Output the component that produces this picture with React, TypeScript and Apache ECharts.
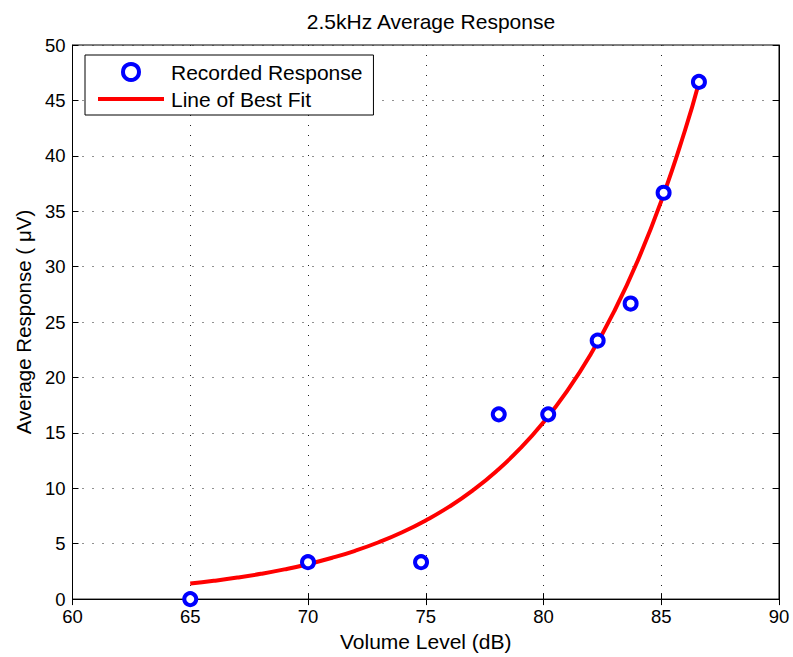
import React, { useEffect, useRef } from "react";
import * as echarts from "echarts";

const recordedX = [65, 70, 74.8, 78.1, 80.2, 82.3, 83.7, 85.1, 86.6];
const recordedY = [0, 3.33, 3.33, 16.67, 16.67, 23.33, 26.67, 36.67, 46.67];

const fitX = [65, 66, 67, 68, 69, 70, 71, 72, 73, 74, 75, 76, 77, 78, 79, 80, 81, 82, 83, 84, 85, 86, 86.6];
const fitY = [1.4, 1.65, 1.94, 2.28, 2.68, 3.15, 3.71, 4.36, 5.13, 6.03, 7.1, 8.34, 9.81, 11.54, 13.57, 15.96, 18.77, 22.07, 25.96, 30.53, 35.91, 42.24, 46.6];

const FONT = "Liberation Sans, Arial, Helvetica, sans-serif";
const LINE_ICON = "path://M0,0 L66,0 L66,0.05 Z M0,6 L66,6 L66,10 L0,10 Z M0,16 L66,16 L66,15.95 Z";

export default function App() {
  const ref = useRef<HTMLDivElement>(null);
  useEffect(() => {
    if (!ref.current) return;
    const chart = echarts.init(ref.current, undefined, { renderer: "svg" });
    const grid = { color: "#222", type: [1, 9] as any, width: 1 };
    const boxAxis = {
      axisLine: { show: true, lineStyle: { color: "#000" } },
      axisTick: { show: true, inside: true, length: 6, lineStyle: { color: "#000" } },
      axisLabel: { show: false },
      splitLine: { show: false },
    };
    chart.setOption({
      animation: false,
      backgroundColor: "#fff",
      textStyle: { fontFamily: FONT },
      title: {
        text: "2.5kHz Average Response",
        left: 426,
        textAlign: "center",
        top: 6,
        textStyle: { fontFamily: FONT, fontSize: 21, fontWeight: "normal", color: "#000" },
      },
      grid: { left: 72.5, right: 14, top: 45, bottom: 57, show: true, borderColor: "#000", borderWidth: 1 },
      legend: {
        orient: "vertical",
        left: 85,
        top: 55,
        padding: [6, 11, 5, 13],
        itemGap: 5,
        itemWidth: 66,
        itemHeight: 16,
        backgroundColor: "#fff",
        borderColor: "#000",
        borderWidth: 1,
        borderRadius: 0,
        textStyle: { fontFamily: FONT, fontSize: 21, lineHeight: 22, color: "#000", padding: [0, 0, 0, 2] },
        data: [
          { name: "Recorded Response", icon: "circle", itemStyle: { color: "#fff", borderColor: "#0000ff", borderWidth: 4 } },
          { name: "Line of Best Fit", icon: LINE_ICON, itemStyle: { color: "#ff0000", borderWidth: 0 } },
        ],
      },
      xAxis: [
        {
          type: "value",
          min: 60,
          max: 90,
          interval: 5,
          name: "Volume Level (dB)",
          nameLocation: "middle",
          nameGap: 24,
          nameTextStyle: { fontFamily: FONT, fontSize: 21, color: "#000", verticalAlign: "top" },
          axisLine: { show: true, lineStyle: { color: "#000" } },
          axisTick: { show: true, inside: true, length: 6, lineStyle: { color: "#000" } },
          axisLabel: { fontFamily: FONT, fontSize: 18.5, color: "#000", margin: 8 },
          splitLine: { show: true, lineStyle: grid },
        },
        { type: "value", min: 60, max: 90, interval: 5, position: "top", ...boxAxis },
      ],
      yAxis: [
        {
          type: "value",
          min: 0,
          max: 50,
          interval: 5,
          name: "Average Response ( \u03bcV)",
          nameLocation: "middle",
          nameGap: 37,
          nameTextStyle: { fontFamily: FONT, fontSize: 20.5, color: "#000" },
          axisLine: { show: true, lineStyle: { color: "#000" } },
          axisTick: { show: true, inside: true, length: 6, lineStyle: { color: "#000" } },
          axisLabel: { fontFamily: FONT, fontSize: 18.5, color: "#000", margin: 7 },
          splitLine: { show: true, lineStyle: grid },
        },
        { type: "value", min: 0, max: 50, interval: 5, position: "right", ...boxAxis },
      ],
      series: [
        {
          name: "Line of Best Fit",
          type: "line",
          data: fitX.map((x, i) => [x, fitY[i]]),
          smooth: true,
          symbol: "none",
          lineStyle: { color: "#ff0000", width: 4 },
          itemStyle: { color: "#ff0000" },
          z: 2,
        },
        {
          name: "Recorded Response",
          type: "scatter",
          data: recordedX.map((x, i) => [x, recordedY[i]]),
          symbol: "circle",
          symbolSize: 12,
          itemStyle: { color: "#fff", borderColor: "#0000ff", borderWidth: 4, opacity: 1 },
          z: 3,
        },
      ],
    });
    return () => chart.dispose();
  }, []);
  return <div ref={ref} style={{ width: 793, height: 657, position: "absolute", left: 0, top: 0 }} />;
}
